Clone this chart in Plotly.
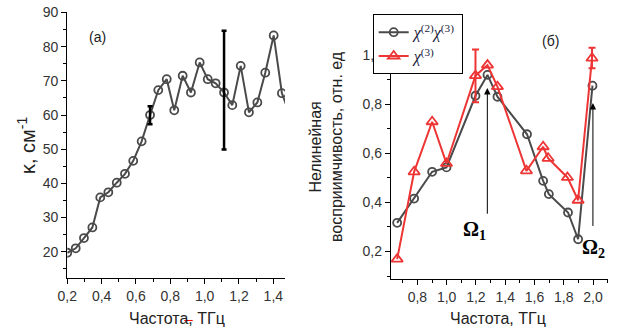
import plotly.graph_objects as go

# ---------------- data: panel (a) ----------------
freq_a = [0.200, 0.249, 0.297, 0.346, 0.392, 0.439, 0.488, 0.536, 0.584, 0.633,
          0.682, 0.730, 0.779, 0.823, 0.872, 0.920, 0.971, 1.018, 1.064, 1.113,
          1.161, 1.210, 1.258, 1.307, 1.353, 1.402, 1.450, 1.499]
kappa = [19.7, 21.0, 24.0, 27.1, 35.9, 37.4, 40.2, 42.8, 46.6, 52.3,
         60.0, 67.3, 70.5, 61.4, 71.5, 66.6, 75.4, 70.5, 69.3, 66.6,
         62.9, 74.4, 60.8, 63.7, 72.4, 83.3, 66.4, 59.7]
err_idx_a = [10, 19]
err_plus_a = [2.6, 18.1]
err_minus_a = [2.7, 16.7]

# ---------------- data: panel (б) ----------------
freq_b = [0.662, 0.778, 0.901, 0.999, 1.197, 1.279, 1.347, 1.549, 1.659, 1.698, 1.829, 1.898, 1.996]
chi23 = [0.317, 0.416, 0.525, 0.543, 0.835, 0.920, 0.831, 0.678, 0.488, 0.434, 0.359, 0.250, 0.876]
freq_c = [0.662, 0.778, 0.901, 0.999, 1.197, 1.279, 1.347, 1.545, 1.659, 1.693, 1.825, 1.898, 1.993]
chi3 = [0.169, 0.525, 0.729, 0.559, 0.917, 0.960, 0.872, 0.529, 0.627, 0.580, 0.502, 0.409, 0.988]
err_idx_c = [4, 12]
err_plus_c = [0.107, 0.043]
err_minus_c = [0.109, 0.041]

# resonance arrows: frequency, tail value, head value
omega_freq = [1.278, 1.999]
omega_tail = [0.348, 0.298]
omega_head = [0.867, 0.805]
omega_labels = ["Ω<sub>1</sub>", "Ω<sub>2</sub>"]
omega_label_pos = [(1.192, 0.287), (2.005, 0.213)]

x_title = "Частота, ТГц"
y_title_a = "κ, см<sup>-1</sup>"
y_title_b = "Нелинейная<br>восприимчивость, отн. ед"
legend_names = ["<i>χ</i><sup>(2)</sup><i>χ</i><sup>(3)</sup>", "<i>χ</i><sup>(3)</sup>"]

W, H = 624, 332
GRAY = "#4a4a4a"
RED = "#ee3535"
FONT = "Arial, Liberation Sans, sans-serif"
SERIF = "Liberation Serif, Times New Roman, serif"
TICKC = "#333333"


def px(x):
    return x / W


def py(y):
    return 1 - y / H


fig = go.Figure()

# panel (a)
fig.add_trace(go.Scatter(
    x=freq_a, y=kappa, mode="lines+markers", xaxis="x", yaxis="y",
    line=dict(color=GRAY, width=2),
    marker=dict(symbol="circle-open", size=8, color=GRAY, line=dict(width=1.8)),
    showlegend=False, cliponaxis=True))
fig.add_trace(go.Scatter(
    x=[freq_a[i] for i in err_idx_a], y=[kappa[i] for i in err_idx_a],
    mode="markers", xaxis="x", yaxis="y",
    marker=dict(size=1, color="rgba(0,0,0,0)"),
    error_y=dict(type="data", symmetric=False, array=err_plus_a, arrayminus=err_minus_a,
                 color="black", thickness=2.5, width=2.5),
    showlegend=False))

# panel (б)
fig.add_trace(go.Scatter(
    x=freq_b, y=chi23, mode="lines+markers", xaxis="x2", yaxis="y2",
    name=legend_names[0],
    line=dict(color=GRAY, width=2),
    marker=dict(symbol="circle-open", size=8, color=GRAY, line=dict(width=1.8))))
fig.add_trace(go.Scatter(
    x=freq_c, y=chi3, mode="lines+markers", xaxis="x2", yaxis="y2",
    name=legend_names[1],
    line=dict(color=RED, width=2),
    marker=dict(symbol="triangle-up-open", size=10, color=RED, line=dict(width=1.8))))
fig.add_trace(go.Scatter(
    x=[freq_c[i] for i in err_idx_c], y=[chi3[i] for i in err_idx_c],
    mode="markers", xaxis="x2", yaxis="y2",
    marker=dict(size=1, color="rgba(0,0,0,0)"),
    error_y=dict(type="data", symmetric=False, array=err_plus_c, arrayminus=err_minus_c,
                 color=RED, thickness=2, width=3.5),
    showlegend=False))

dom_xa = [px(67.3), px(285)]
dom_ya = [py(277.7), py(11.7)]
dom_xb = [px(391), px(607.7)]
dom_yb = [py(279), py(14.3)]
range_xa = [0.2, 1.468]
range_ya = [12.4, 90.25]
range_xb = [0.62, 2.1]
range_yb = [0.088, 1.167]

common = dict(showline=True, linecolor="black", linewidth=1.3, showgrid=False, zeroline=False,
              tickcolor="black", tickwidth=1, ticklen=5,
              tickfont=dict(family=FONT, size=14, color=TICKC))

fig.update_layout(
    width=W, height=H, margin=dict(l=0, r=0, t=0, b=0),
    template="none", paper_bgcolor="white", plot_bgcolor="white",
    separators=", ",
    font=dict(family=FONT, color="#222"),
    xaxis=dict(domain=dom_xa, anchor="y", range=range_xa, ticks="outside",
               tickvals=[0.2, 0.4, 0.6, 0.8, 1.0, 1.2, 1.4], tickformat=".1f",
               minor=dict(ticks="outside", ticklen=3, dtick=0.1, tick0=0.2, tickcolor="black"),
               **common),
    yaxis=dict(domain=dom_ya, anchor="x", range=range_ya, ticks="outside", dtick=10, tick0=0,
               minor=dict(ticks="outside", ticklen=3, dtick=5, tick0=0, tickcolor="black"),
               **common),
    xaxis3=dict(overlaying="x", anchor="y", side="top", range=range_xa, ticks="inside",
                showticklabels=False, dtick=0.2, tick0=0.2,
                minor=dict(ticks="inside", ticklen=3, dtick=0.1, tick0=0.2, tickcolor="black"),
                **common),
    yaxis3=dict(overlaying="y", anchor="x", side="right", range=range_ya, ticks="inside",
                showticklabels=False, dtick=10, tick0=0,
                minor=dict(ticks="inside", ticklen=3, dtick=5, tick0=0, tickcolor="black"),
                **common),
    xaxis2=dict(domain=dom_xb, anchor="y2", range=range_xb, ticks="outside",
                tickvals=[0.8, 1.0, 1.2, 1.4, 1.6, 1.8, 2.0], tickformat=".1f",
                minor=dict(ticks="outside", ticklen=3, dtick=0.1, tick0=0, tickcolor="black"),
                **common),
    yaxis2=dict(domain=dom_yb, anchor="x2", range=range_yb, ticks="outside",
                tickvals=[0.2, 0.4, 0.6, 0.8, 1.0], tickformat=".1f",
                minor=dict(ticks="outside", ticklen=3, dtick=0.1, tick0=0, tickcolor="black"),
                **common),
    xaxis4=dict(overlaying="x2", anchor="y2", side="top", range=range_xb, ticks="inside",
                showticklabels=False, dtick=0.1, tick0=0, **common),
    yaxis4=dict(overlaying="y2", anchor="x2", side="right", range=range_yb, ticks="inside",
                showticklabels=False, dtick=0.1, tick0=0, **common),
    legend=dict(x=px(372.7), y=py(14.3), xanchor="left", yanchor="top",
                bgcolor="white", bordercolor="black", borderwidth=1,
                font=dict(family=SERIF, size=16, color="#1c1c3c"),
                tracegroupgap=0, itemwidth=30),
)

CM = dict(xanchor="center", yanchor="middle", showarrow=False)
ann = []
ann.append(dict(text="(a)", x=px(97.7), y=py(36.7), xref="paper", yref="paper",
                font=dict(size=14, family=FONT, color="#222"), **CM))
ann.append(dict(text="(б)", x=px(550), y=py(41), xref="paper", yref="paper",
                font=dict(size=14, family=FONT, color="#222"), **CM))
ann.append(dict(text=x_title, x=px(176.5), y=py(318), xref="paper", yref="paper",
                font=dict(size=16, family=FONT, color="#222"), **CM))
ann.append(dict(text=x_title, x=px(498), y=py(318), xref="paper", yref="paper",
                font=dict(size=16, family=FONT, color="#222"), **CM))
ann.append(dict(text=y_title_a, x=px(26), y=py(145), xref="paper", yref="paper",
                textangle=-90, font=dict(size=20, family=FONT, color="#222"), **CM))
ann.append(dict(text=y_title_b, x=px(326), y=py(147), xref="paper", yref="paper",
                textangle=-90, font=dict(size=16, family=FONT, color="#222"), **CM))
for f, t, h in zip(omega_freq, omega_tail, omega_head):
    ann.append(dict(x=f, y=h, ax=f, ay=t, xref="x2", yref="y2", axref="x2", ayref="y2",
                    text="", showarrow=True, arrowhead=2, arrowsize=1.3, arrowwidth=1,
                    arrowcolor="black", standoff=0, startstandoff=0))
for lab, (lx, ly) in zip(omega_labels, omega_label_pos):
    ann.append(dict(text="<b>" + lab + "</b>", x=lx, y=ly, xref="x2", yref="y2",
                    font=dict(size=20, family=SERIF, color="black"), **CM))
fig.update_layout(annotations=ann)

# small red stroke under the left axis title
fig.add_shape(type="line", xref="paper", yref="paper",
              x0=px(184.3), x1=px(192.7), y0=py(320.5), y1=py(320.5),
              line=dict(color="red", width=1))

fig.write_html("out.html")
